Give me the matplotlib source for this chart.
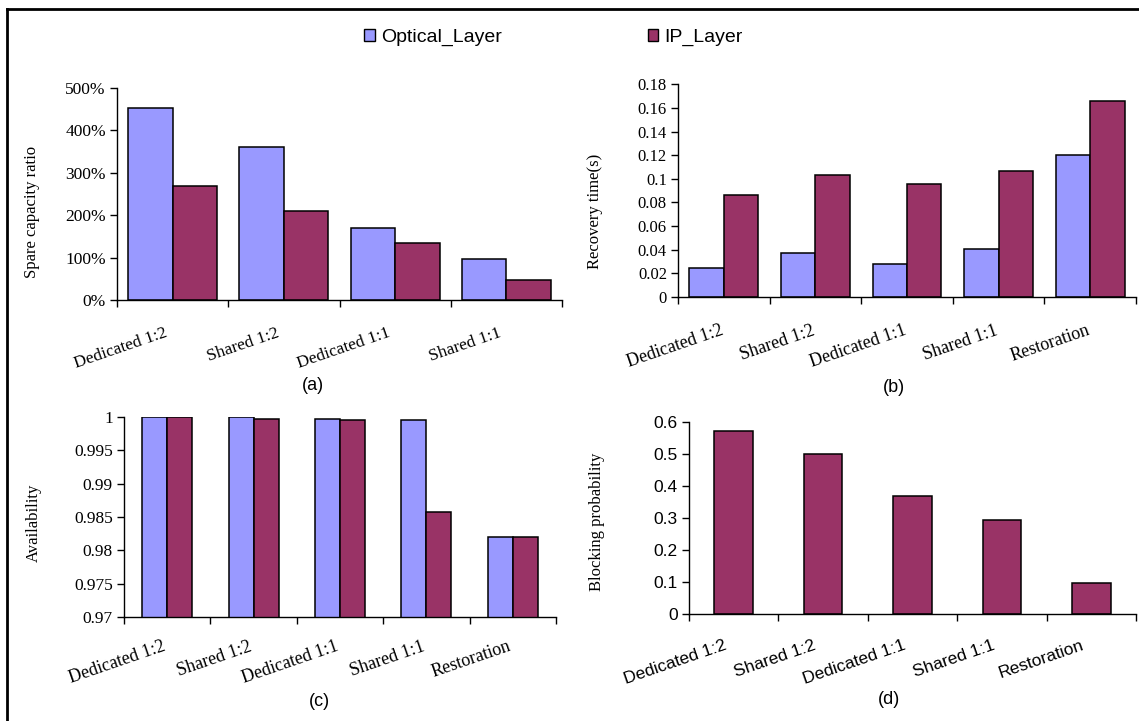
import matplotlib.pyplot as plt
import numpy as np
from matplotlib.lines import Line2D
from matplotlib.patches import Patch
import matplotlib.transforms as mtransforms

W, H = 1139, 721

# data
cats_a = ['Dedicated 1:2', 'Shared 1:2', 'Dedicated 1:1', 'Shared 1:1']
cats = ['Dedicated 1:2', 'Shared 1:2', 'Dedicated 1:1', 'Shared 1:1', 'Restoration']

spare_optical = [4.53, 3.62, 1.69, 0.97]
spare_ip = [2.70, 2.10, 1.34, 0.465]

recov_optical = [0.0243, 0.0373, 0.0277, 0.041, 0.1198]
recov_ip = [0.0859, 0.1029, 0.0958, 0.1065, 0.1659]

avail_optical = [1.0, 1.0, 0.9997, 0.99955, 0.98206]
avail_ip = [1.0, 0.9997, 0.99955, 0.9858, 0.982]

blocking_ip = [0.570, 0.498, 0.369, 0.294, 0.098]

ticks_a = [0, 1, 2, 3, 4, 5]
ticklabels_a = ['0%', '100%', '200%', '300%', '400%', '500%']
ticks_b = [0, 0.02, 0.04, 0.06, 0.08, 0.1, 0.12, 0.14, 0.16, 0.18]
ticklabels_b = ['0', '0.02', '0.04', '0.06', '0.08', '0.1', '0.12', '0.14', '0.16', '0.18']
ticks_c = [0.97, 0.975, 0.98, 0.985, 0.99, 0.995, 1.0]
ticklabels_c = ['0.97', '0.975', '0.98', '0.985', '0.99', '0.995', '1']
ticks_d = [0, 0.1, 0.2, 0.3, 0.4, 0.5, 0.6]
ticklabels_d = ['0', '0.1', '0.2', '0.3', '0.4', '0.5', '0.6']

OPT = '#9999FF'
IP = '#993366'
SERIF = 'Liberation Serif'
SANS = 'Liberation Sans'

fig = plt.figure(figsize=(W / 100, H / 100), dpi=100, facecolor='w')


def px_axes(left, right, bottom, top):
    return fig.add_axes([left / W, 1 - bottom / H, (right - left) / W, (bottom - top) / H])


def style(ax, cats, ticks, ticklabels, ylim, tickfont, yfs, xfs, pad, dx=0):
    n = len(cats)
    ax.set_xlim(-0.5, n - 0.5)
    ax.set_ylim(*ylim)
    for s in ['top', 'right']:
        ax.spines[s].set_visible(False)
    for s in ['left', 'bottom']:
        ax.spines[s].set_linewidth(1.0)
        ax.spines[s].set_color('black')
    ax.set_yticks(ticks)
    ax.set_yticklabels(ticklabels, family=tickfont, fontsize=yfs)
    ax.tick_params(axis='y', length=5, width=1, direction='out', pad=3)
    ax.set_xticks(np.arange(n))
    ax.set_xticks(np.arange(n + 1) - 0.5, minor=True)
    ax.set_xticklabels(cats, family=tickfont, fontsize=xfs, rotation=19,
                       ha='right', va='top', rotation_mode='anchor')
    ax.tick_params(axis='x', which='major', length=0, pad=pad)
    ax.tick_params(axis='x', which='minor', length=5, width=1, direction='out')
    off = mtransforms.ScaledTranslation(dx / 100, 0, fig.dpi_scale_trans)
    for lab in ax.get_xticklabels():
        lab.set_transform(lab.get_transform() + off)


def ylab(text, x, y):
    fig.text(x / W, 1 - y / H, text, rotation=90, ha='center', va='center',
             family=SERIF, fontsize=12)


def caption(text, x, y):
    fig.text(x / W, 1 - y / H, text, ha='center', va='center', family=SANS, fontsize=13)


kw = dict(edgecolor='black', linewidth=1.1)

# (a) spare capacity
ax = px_axes(117, 562, 300, 88)
x = np.arange(len(cats_a))
w = 0.4
ax.bar(x - w / 2, spare_optical, width=w, color=OPT, **kw)
ax.bar(x + w / 2, spare_ip, width=w, color=IP, **kw)
style(ax, cats_a, ticks_a, ticklabels_a, (0, 5), SERIF, 12.5, 12.5, 18, dx=-8)
ylab('Spare capacity ratio', 32, 212)
caption('(a)', 313, 386)

# (b) recovery time
ax = px_axes(678, 1136, 297, 84.3)
x = np.arange(len(cats))
w = 0.375
ax.bar(x - w / 2, recov_optical, width=w, color=OPT, **kw)
ax.bar(x + w / 2, recov_ip, width=w, color=IP, **kw)
style(ax, cats, ticks_b, ticklabels_b, (0, 0.18), SERIF, 12, 13, 18, dx=-4)
ylab('Recovery time(s)', 595, 211)
caption('(b)', 894, 388)

# (c) availability
ax = px_axes(124, 556, 617.3, 416.7)
w = 0.29
ax.bar(x - w / 2, avail_optical, width=w, color=OPT, **kw)
ax.bar(x + w / 2, avail_ip, width=w, color=IP, **kw)
style(ax, cats, ticks_c, ticklabels_c, (0.97, 1.0), SERIF, 12.5, 13, 15, dx=-5)
ylab('Availability', 34, 523)
caption('(c)', 319, 701)

# (d) blocking probability, IP layer only
ax = px_axes(689, 1136, 614, 421.7)
ax.bar(x, blocking_ip, width=0.43, color=IP, **kw)
style(ax, cats, ticks_d, ticklabels_d, (0, 0.6), SANS, 12.5, 12.5, 17, dx=-10)
ylab('Blocking probability', 597, 522)
caption('(d)', 889, 699)

# legend on top
handles = [Patch(facecolor=OPT, edgecolor='black', linewidth=1.0),
           Patch(facecolor=IP, edgecolor='black', linewidth=1.0)]
fig.legend(handles, ['Optical_Layer', 'IP_Layer'], ncol=2, loc='center',
           bbox_to_anchor=(553.5 / W, 1 - 37.5 / H), frameon=False,
           prop={'family': SANS, 'size': 14}, handlelength=0.55, handleheight=0.6,
           handletextpad=0.3, columnspacing=7.5, borderpad=0)

# outer frame (top and left edges visible)
fig.add_artist(Line2D([7 / W, 1.0], [1 - 9 / H, 1 - 9 / H], color='black', lw=2,
                      transform=fig.transFigure))
fig.add_artist(Line2D([7 / W, 7 / W], [0, 1 - 9 / H], color='black', lw=2,
                      transform=fig.transFigure))

fig.savefig('out.png', dpi=100, facecolor='w')
